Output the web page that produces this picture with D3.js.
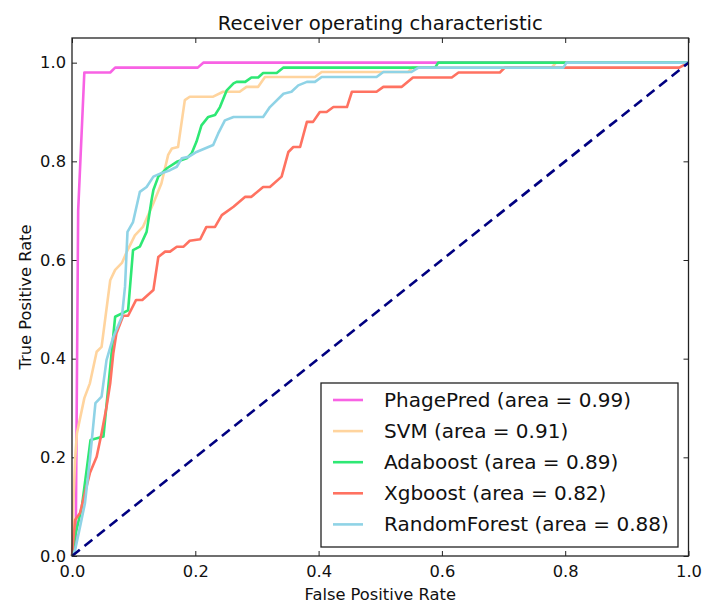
<!DOCTYPE html>
<html>
<head>
<meta charset="utf-8">
<script src="https://cdn.jsdelivr.net/npm/d3@7"></script>
<style>
  body { margin: 0; background: #fff; }
  text { font-family: "DejaVu Sans", sans-serif; }
</style>
</head>
<body>
<div id="chart"></div>
<script>
// ROC curves (false positive rate / true positive rate)
var phageFpr = [0, 0.006, 0.010, 0.020, 0.062, 0.070, 0.204, 0.213, 1.0];
var phageTpr = [0, 0.02, 0.70, 0.98, 0.98, 0.99, 0.99, 1.0, 1.0];

var svmFpr = [0, 0.002, 0.005, 0.008, 0.020, 0.029, 0.040, 0.048, 0.062, 0.070, 0.081, 0.089, 0.102, 0.115, 0.132, 0.145, 0.156, 0.162, 0.172, 0.183, 0.191, 0.229, 0.245, 0.272, 0.283, 0.302, 0.313, 0.394, 0.405, 0.545, 0.552, 0.778, 0.785, 1.0];
var svmTpr = [0, 0.10, 0.195, 0.249, 0.32, 0.35, 0.414, 0.424, 0.559, 0.58, 0.594, 0.617, 0.650, 0.667, 0.715, 0.755, 0.813, 0.826, 0.829, 0.924, 0.931, 0.931, 0.941, 0.941, 0.951, 0.951, 0.971, 0.971, 0.981, 0.981, 0.99, 0.99, 1.0, 1.0];

var adaFpr = [0, 0.005, 0.016, 0.030, 0.051, 0.070, 0.091, 0.099, 0.110, 0.121, 0.129, 0.132, 0.140, 0.154, 0.170, 0.186, 0.194, 0.202, 0.210, 0.221, 0.232, 0.240, 0.251, 0.262, 0.267, 0.281, 0.291, 0.302, 0.310, 0.332, 0.343, 0.589, 0.594, 1.0];
var adaTpr = [0, 0.04, 0.10, 0.235, 0.242, 0.485, 0.498, 0.62, 0.627, 0.657, 0.721, 0.742, 0.769, 0.786, 0.799, 0.806, 0.816, 0.84, 0.873, 0.890, 0.894, 0.910, 0.944, 0.958, 0.961, 0.961, 0.970, 0.970, 0.979, 0.979, 0.990, 0.990, 1.0, 1.0];

var xgbFpr = [0, 0.005, 0.013, 0.021, 0.029, 0.040, 0.048, 0.056, 0.062, 0.067, 0.072, 0.083, 0.091, 0.104, 0.114, 0.132, 0.140, 0.151, 0.159, 0.170, 0.181, 0.191, 0.208, 0.218, 0.232, 0.243, 0.262, 0.281, 0.291, 0.310, 0.321, 0.340, 0.351, 0.359, 0.370, 0.381, 0.391, 0.402, 0.413, 0.424, 0.446, 0.454, 0.494, 0.505, 0.535, 0.553, 0.616, 0.627, 0.694, 0.702, 0.985, 1.0];
var xgbTpr = [0, 0.073, 0.087, 0.128, 0.168, 0.201, 0.249, 0.302, 0.35, 0.411, 0.451, 0.487, 0.487, 0.519, 0.519, 0.539, 0.606, 0.617, 0.617, 0.627, 0.627, 0.639, 0.642, 0.667, 0.667, 0.691, 0.708, 0.728, 0.728, 0.748, 0.748, 0.769, 0.819, 0.829, 0.829, 0.880, 0.880, 0.900, 0.900, 0.910, 0.910, 0.941, 0.941, 0.951, 0.951, 0.970, 0.970, 0.980, 0.980, 0.990, 0.990, 1.0];

var rfFpr = [0, 0.005, 0.013, 0.021, 0.029, 0.038, 0.048, 0.056, 0.067, 0.081, 0.086, 0.090, 0.099, 0.110, 0.121, 0.132, 0.143, 0.159, 0.170, 0.178, 0.189, 0.202, 0.229, 0.237, 0.248, 0.262, 0.310, 0.321, 0.343, 0.356, 0.367, 0.381, 0.394, 0.405, 0.494, 0.505, 0.550, 0.562, 0.797, 0.802, 1.0];
var rfTpr = [0, 0.012, 0.059, 0.107, 0.195, 0.31, 0.323, 0.397, 0.444, 0.485, 0.546, 0.657, 0.677, 0.738, 0.748, 0.769, 0.775, 0.782, 0.789, 0.806, 0.809, 0.819, 0.833, 0.856, 0.883, 0.890, 0.890, 0.910, 0.937, 0.941, 0.954, 0.961, 0.961, 0.971, 0.971, 0.981, 0.981, 0.99, 0.99, 1.0, 1.0];

var modelNames = ["PhagePred", "SVM", "Adaboost", "Xgboost", "RandomForest"];
var modelAreas = [0.99, 0.91, 0.89, 0.82, 0.88];
var modelColors = ["#F862E4", "#FFD49E", "#2EE874", "#FF7261", "#8FD3E6"];
var modelFpr = [phageFpr, svmFpr, adaFpr, xgbFpr, rfFpr];
var modelTpr = [phageTpr, svmTpr, adaTpr, xgbTpr, rfTpr];

var tickValues = [0, 0.2, 0.4, 0.6, 0.8, 1.0];

var width = 702;
var height = 605;
var margin = { top: 38, right: 13.5, bottom: 49, left: 72 };

var svg = d3.select("#chart").append("svg")
    .attr("width", width)
    .attr("height", height);

svg.append("rect")
    .attr("width", width)
    .attr("height", height)
    .attr("fill", "#fff");

var x = d3.scaleLinear()
    .domain([0, 1])
    .range([margin.left, width - margin.right]);

var y = d3.scaleLinear()
    .domain([0, 1.05])
    .range([height - margin.bottom, margin.top]);

var fmt = d3.format(".1f");

// axes, ticks pointing inwards on all four sides
svg.append("g")
    .attr("transform", "translate(0," + (height - margin.bottom) + ")")
    .call(d3.axisBottom(x).tickValues(tickValues).tickFormat(fmt)
        .tickSizeInner(-5).tickSizeOuter(0).tickPadding(9));

svg.append("g")
    .attr("transform", "translate(" + margin.left + ",0)")
    .call(d3.axisLeft(y).tickValues(tickValues).tickFormat(fmt)
        .tickSizeInner(-5).tickSizeOuter(0).tickPadding(6));

svg.append("g")
    .attr("transform", "translate(0," + margin.top + ")")
    .call(d3.axisTop(x).tickValues(tickValues).tickFormat("")
        .tickSizeInner(-5).tickSizeOuter(0));

svg.append("g")
    .attr("transform", "translate(" + (width - margin.right) + ",0)")
    .call(d3.axisRight(y).tickValues(tickValues).tickFormat("")
        .tickSizeInner(-5).tickSizeOuter(0));

svg.selectAll(".domain").remove();
svg.selectAll(".tick line").attr("stroke", "#222").attr("stroke-width", 1);
svg.selectAll(".tick text")
    .attr("fill", "#111")
    .style("font-size", "16.3px")
    .style("font-family", "DejaVu Sans");

// curves
var line = d3.line()
    .x(function (d) { return x(d[0]); })
    .y(function (d) { return y(d[1]); });

var curveGroup = svg.append("g");

modelNames.forEach(function (name, i) {
    var pts = modelFpr[i].map(function (f, j) { return [f, modelTpr[i][j]]; });
    curveGroup.append("path")
        .datum(pts)
        .attr("d", line)
        .attr("fill", "none")
        .attr("stroke", modelColors[i])
        .attr("stroke-width", 2.6)
        .attr("stroke-linejoin", "round");
});

// chance line
curveGroup.append("path")
    .datum([[0, 0], [1, 1]])
    .attr("d", line)
    .attr("fill", "none")
    .attr("stroke", "#000080")
    .attr("stroke-width", 2.6)
    .attr("stroke-dasharray", "10,6");

// frame
svg.append("rect")
    .attr("x", x(0))
    .attr("y", y(1.05))
    .attr("width", x(1) - x(0))
    .attr("height", y(0) - y(1.05))
    .attr("fill", "none")
    .attr("stroke", "#222")
    .attr("stroke-width", 1.3);

// title and axis labels
svg.append("text")
    .attr("x", (x(0) + x(1)) / 2)
    .attr("y", 30)
    .attr("text-anchor", "middle")
    .style("font-size", "19.6px")
    .attr("fill", "#111")
    .text("Receiver operating characteristic");

svg.append("text")
    .attr("x", (x(0) + x(1)) / 2)
    .attr("y", 600)
    .attr("text-anchor", "middle")
    .style("font-size", "16.3px")
    .attr("fill", "#111")
    .text("False Positive Rate");

svg.append("text")
    .attr("transform", "translate(31," + ((y(0) + y(1.05)) / 2) + ") rotate(-90)")
    .attr("text-anchor", "middle")
    .style("font-size", "16.3px")
    .attr("fill", "#111")
    .text("True Positive Rate");

// legend
var legend = svg.append("g");

legend.append("rect")
    .attr("x", 321)
    .attr("y", 383)
    .attr("width", 357)
    .attr("height", 164)
    .attr("fill", "#fff")
    .attr("stroke", "#222")
    .attr("stroke-width", 1.3);

modelNames.forEach(function (name, i) {
    var ly = 400 + i * 31.1;
    legend.append("line")
        .attr("x1", 333)
        .attr("x2", 363)
        .attr("y1", ly)
        .attr("y2", ly)
        .attr("stroke", modelColors[i])
        .attr("stroke-width", 2.6);
    legend.append("text")
        .attr("x", 384)
        .attr("y", ly)
        .attr("dy", "0.35em")
        .style("font-size", "20px")
        .attr("fill", "#111")
        .text(name + " (area = " + d3.format(".2f")(modelAreas[i]) + ")");
});
</script>
</body>
</html>
